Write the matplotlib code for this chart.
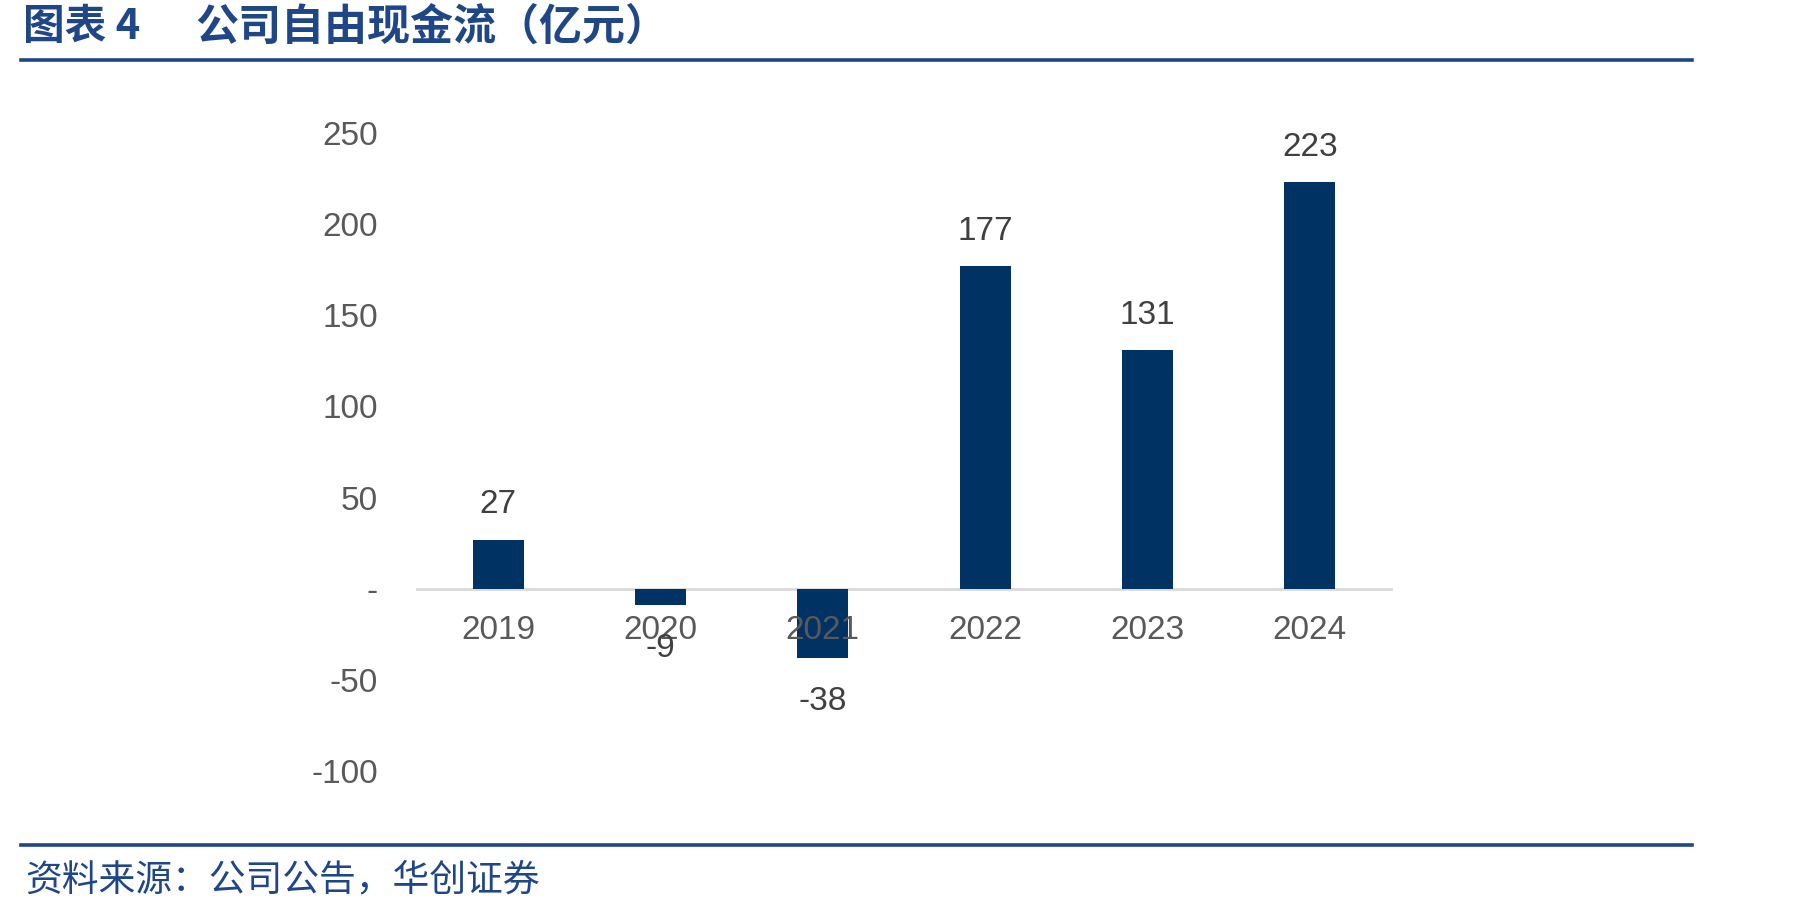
import matplotlib
matplotlib.use("Agg")
import matplotlib.pyplot as plt
from matplotlib.lines import Line2D

years = ["2019", "2020", "2021", "2022", "2023", "2024"]
fcf = [27, -9, -38, 177, 131, 223]
yticks = [-100, -50, 0, 50, 100, 150, 200, 250]
ytick_labels = ["-100", "-50", "-", "50", "100", "150", "200", "250"]

title_head = "图表 4"
title_body = "公司自由现金流（亿元）"
source = "资料来源：公司公告，华创证券"

BAR = "#003263"
NAVY = "#1F4788"
CJK = ["Noto Sans CJK SC", "DejaVu Sans"]

fig = plt.figure(figsize=(18.01, 9.13), dpi=100)
ax = fig.add_axes([0.2315, 0.1555, 0.5408, 0.6988])

x = list(range(len(years)))
ax.bar(x, fcf, width=0.315, color=BAR, zorder=1)
ax.set_xlim(-0.5, len(years) - 0.5)
ax.set_ylim(-100, 250)

for s in ["top", "right", "left"]:
    ax.spines[s].set_visible(False)
ax.spines["bottom"].set_position(("data", 0))
ax.spines["bottom"].set_color("#D9D9D9")
ax.spines["bottom"].set_linewidth(2)
ax.spines["bottom"].set_zorder(0.9)

ax.set_xticks(x)
ax.set_xticklabels(years, fontsize=24, color="#595959", family="Liberation Sans")
ax.tick_params(axis="x", length=0, pad=19)
ax.set_yticks(yticks)
ax.set_yticklabels(ytick_labels, fontsize=24, color="#595959", family="Liberation Sans")
ax.tick_params(axis="y", length=0, pad=28)
ax.xaxis.set_zorder(3)

for xi, v in zip(x, fcf):
    off = 25 if v >= 0 else -31
    ax.annotate(str(v), (xi, v), xytext=(0, off), textcoords="offset points",
                ha="center", va="center", fontsize=24, color="#404040",
                family="Liberation Sans", zorder=4)

fig.text(23 / 1801, 1 - 27 / 913, title_head, fontsize=30, fontweight="bold",
         color=NAVY, family=CJK, ha="left", va="center")
fig.text(195 / 1801, 1 - 27 / 913, title_body, fontsize=31, fontweight="bold",
         color=NAVY, family=CJK, ha="left", va="center")
fig.add_artist(Line2D([21 / 1801, 1692 / 1801], [1 - 60 / 913] * 2,
                      color=NAVY, lw=2.6, transform=fig.transFigure))
fig.add_artist(Line2D([21 / 1801, 1692 / 1801], [1 - 845 / 913] * 2,
                      color=NAVY, lw=2.6, transform=fig.transFigure))
fig.text(25 / 1801, 1 - 880 / 913, source, fontsize=26.5, style="italic",
         color=NAVY, family=CJK, ha="left", va="center")

fig.savefig("out.png", dpi=100)
